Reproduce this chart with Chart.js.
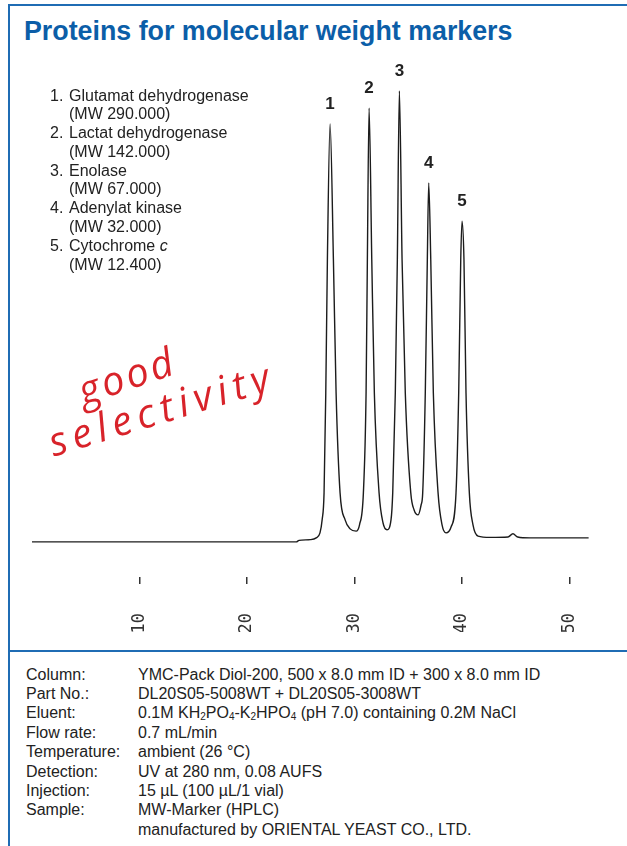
<!DOCTYPE html>
<html><head><meta charset="utf-8">
<script src="https://cdn.jsdelivr.net/npm/chart.js@4/dist/chart.umd.min.js"></script>
<style>
html,body{margin:0;padding:0;background:#fff;width:627px;height:846px;overflow:hidden;}
#page{position:relative;width:627px;height:846px;background:#fff;}
.blue{position:absolute;background:#1f6cb4;}
#title{position:absolute;left:24px;top:16px;font:bold 26.8px 'Liberation Sans',Arial,sans-serif;line-height:30px;color:#0b5ea8;white-space:nowrap;letter-spacing:0px;}
#chartWrap{position:absolute;left:0;top:0;width:627px;height:650px;}
#legendList{position:absolute;left:50px;top:86.5px;font:16px 'Liberation Sans',Arial,sans-serif;color:#222;line-height:18.8px;white-space:nowrap;}
#legendList .row{display:flex;}
#legendList .num{width:19px;}
.hand{position:absolute;font-family:'Open Sans',sans-serif;font-style:italic;font-weight:400;color:#d8232a;white-space:nowrap;transform-origin:center center;}
#cond{position:absolute;left:26px;top:664.5px;font:16px 'Liberation Sans',Arial,sans-serif;color:#222;line-height:19.4px;white-space:nowrap;}
#cond .row{display:flex;}
#cond .lab{width:112px;}
sub{font-size:10px;vertical-align:-2px;line-height:0;}
</style></head>
<body><div id="page">
<div class="blue" style="left:8px;top:4px;width:619px;height:2px;"></div>
<div class="blue" style="left:8px;top:4px;width:2px;height:842px;"></div>
<div class="blue" style="left:8px;top:650px;width:619px;height:2px;"></div>
<div id="title">Proteins for molecular weight markers</div>
<div id="chartWrap"><canvas id="c" width="627" height="650" style="width:627px;height:650px;"></canvas></div>
<div id="legendList"></div>
<div class="hand" id="good" style="left:76px;top:347px;font-size:40px;letter-spacing:3px;transform:rotate(-19deg);">good</div>
<div class="hand" id="sel" style="left:44px;top:380px;font-size:40px;letter-spacing:6px;transform:rotate(-17deg);">selectivity</div>
<div id="cond"></div>
</div>
<script>
// ---- data ----
const times  = [0, 10, 20, 24.6, 24.85, 25.9, 26.45, 26.8, 27.0, 27.18, 27.34, 27.49, 27.74, 28.05, 28.30, 28.67, 29.14, 29.60, 30.16, 30.48, 30.84, 31.09, 31.21, 31.37, 31.62, 31.86, 32.30, 32.67, 33.04, 33.41, 33.57, 33.81, 34.0, 34.19, 34.44, 34.74, 35.25, 35.56, 35.93, 36.21, 36.36, 36.60, 36.79, 36.92, 37.11, 37.35, 37.79, 38.16, 38.53, 39.0, 39.46, 39.71, 39.90, 40.02, 40.20, 40.39, 40.70, 41.04, 41.51, 42.63, 44.3, 44.76, 45.2, 46.35, 51.8];
const signal = [0, 0, 0, 0, 0.35, 0.5, 0.9, 2, 4.9, 10.9, 33.1, 62.7, 92.9, 62.7, 33.1, 10.9, 4.9, 2.9, 2.4, 3.8, 10.9, 33.1, 62.7, 96.4, 62.7, 33.1, 10.9, 4.2, 2.7, 4.9, 10.9, 33.1, 62.7, 100.2, 62.7, 33.1, 10.9, 7.1, 6.0, 8.2, 10.9, 33.1, 62.7, 79.8, 62.7, 33.1, 10.9, 3.8, 2.0, 3.3, 10.9, 33.1, 62.7, 71.3, 62.7, 33.1, 10.9, 3.8, 1.3, 1.0, 1.1, 1.8, 1.1, 0.9, 0.9];
const peakNumbers = ['1', '2', '3', '4', '5'];
const peakTimes   = [27.74, 31.37, 34.19, 36.92, 40.02];
const peakHeights = [92.9, 96.4, 100.2, 79.8, 71.3];
const tickValues  = [10, 20, 30, 40, 50];
const proteinNames = ['Glutamat dehydrogenase', 'Lactat dehydrogenase', 'Enolase', 'Adenylat kinase', 'Cytochrome <i>c</i>'];
const molWeights   = ['290.000', '142.000', '67.000', '32.000', '12.400'];
const condLabels = ['Column:', 'Part No.:', 'Eluent:', 'Flow rate:', 'Temperature:', 'Detection:', 'Injection:', 'Sample:', ''];
const condValues = ['YMC-Pack Diol-200, 500 x 8.0 mm ID + 300 x 8.0 mm ID', 'DL20S05-5008WT + DL20S05-3008WT',
  '0.1M KH<sub>2</sub>PO<sub>4</sub>-K<sub>2</sub>HPO<sub>4</sub> (pH 7.0) containing 0.2M NaCl', '0.7 mL/min',
  'ambient (26 °C)', 'UV at 280 nm, 0.08 AUFS', '15 µL (100 µL/1 vial)', 'MW-Marker (HPLC)', 'manufactured by ORIENTAL YEAST CO., LTD.'];

// ---- text blocks ----
let lh = '';
proteinNames.forEach((n, i) => {
  lh += `<div class="row"><span class="num">${i + 1}.</span><span>${n}</span></div>`;
  lh += `<div class="row"><span class="num"></span><span>(MW ${molWeights[i]})</span></div>`;
});
document.getElementById('legendList').innerHTML = lh;
let ch = '';
condLabels.forEach((l, i) => { ch += `<div class="row"><span class="lab">${l}</span><span>${condValues[i]}</span></div>`; });
document.getElementById('cond').innerHTML = ch;

// ---- chart ----
const peakLabelPlugin = {
  id: 'peakLabels',
  afterDatasetsDraw(chart) {
    const { ctx, scales: { x, y } } = chart;
    ctx.save();
    ctx.font = 'bold 17px "Liberation Sans", Arial, sans-serif';
    ctx.fillStyle = '#222';
    ctx.textAlign = 'center';
    ctx.textBaseline = 'middle';
    peakNumbers.forEach((lab, i) => {
      ctx.fillText(lab, x.getPixelForValue(peakTimes[i]), y.getPixelForValue(peakHeights[i]) - 20);
    });
    ctx.restore();
  }
};

new Chart(document.getElementById('c'), {
  type: 'line',
  data: { datasets: [{
    data: times.map((t, i) => ({ x: t, y: signal[i] })),
    borderColor: '#1c1c1c', borderWidth: 1.4, pointRadius: 0,
    cubicInterpolationMode: 'monotone', fill: false
  }] },
  options: {
    responsive: false, animation: false, devicePixelRatio: 1,
    layout: { padding: { left: 32, right: 4, top: 60, bottom: 18 } },
    plugins: { legend: { display: false }, tooltip: { enabled: false } },
    scales: {
      x: {
        type: 'linear', min: 0, max: 55,
        afterBuildTicks: s => { s.ticks = tickValues.map(v => ({ value: v })); },
        afterFit: s => { s.height = 55; },
        ticks: { minRotation: 90, maxRotation: 90, autoSkip: false, padding: 29,
                 font: { family: 'DejaVu Sans Mono', size: 17 }, color: '#333',
                 callback: v => String(v) },
        grid: { drawOnChartArea: false, drawTicks: true, tickLength: 7, color: '#333', lineWidth: 1.5 },
        border: { display: false }
      },
      y: { display: false, min: -7.8, max: 107.1 }
    }
  },
  plugins: [peakLabelPlugin]
});
</script>
</body></html>
